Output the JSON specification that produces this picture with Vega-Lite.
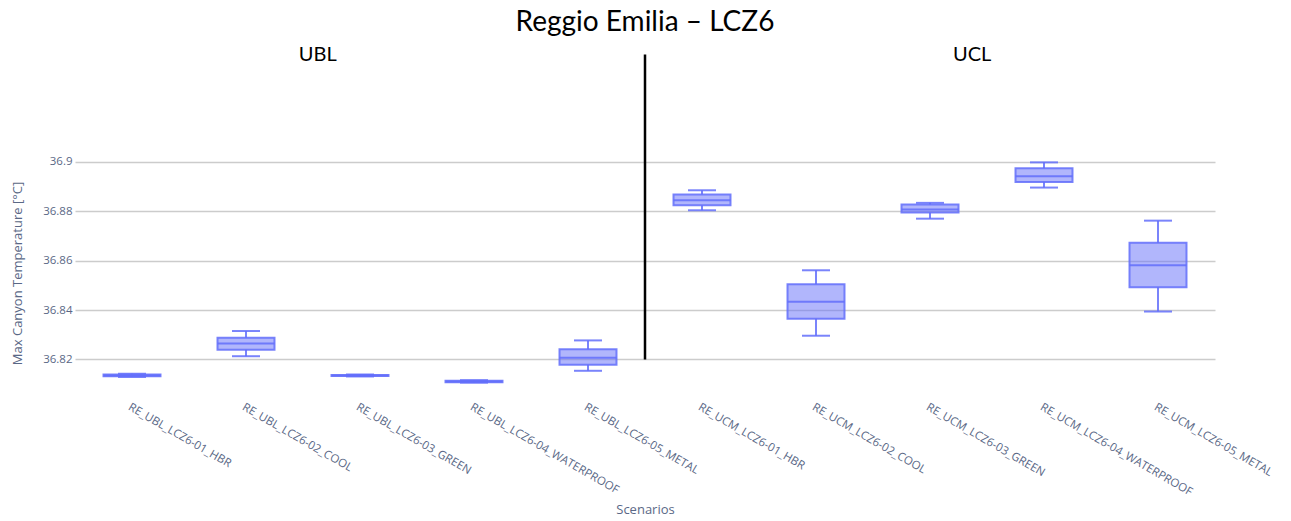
{
  "$schema": "https://vega.github.io/schema/vega-lite/v6.json",
  "width": 1140,
  "height": 242,
  "autosize": {"type": "none"},
  "padding": {"left": 75, "top": 152, "right": 76, "bottom": 127},
  "background": "white",
  "config": {"view": {"stroke": null}},
  "title": {"text": "Reggio Emilia – LCZ6", "font": "Lato", "fontSize": 28, "fontWeight": "normal", "color": "#000000", "anchor": "middle", "offset": 8},
  "data": {"values": [
    {"scenario": "RE_UBL_LCZ6-01_HBR", "min": 36.8129, "q1": 36.8132, "median": 36.8135, "q3": 36.8139, "max": 36.8142},
    {"scenario": "RE_UBL_LCZ6-02_COOL", "min": 36.8213, "q1": 36.8239, "median": 36.8264, "q3": 36.8288, "max": 36.8315},
    {"scenario": "RE_UBL_LCZ6-03_GREEN", "min": 36.8131, "q1": 36.8133, "median": 36.8135, "q3": 36.8137, "max": 36.8139},
    {"scenario": "RE_UBL_LCZ6-04_WATERPROOF", "min": 36.8106, "q1": 36.8108, "median": 36.8111, "q3": 36.8114, "max": 36.8116},
    {"scenario": "RE_UBL_LCZ6-05_METAL", "min": 36.8154, "q1": 36.8178, "median": 36.8207, "q3": 36.8241, "max": 36.8277},
    {"scenario": "RE_UCM_LCZ6-01_HBR", "min": 36.8804, "q1": 36.8824, "median": 36.8845, "q3": 36.8868, "max": 36.8885},
    {"scenario": "RE_UCM_LCZ6-02_COOL", "min": 36.8296, "q1": 36.8365, "median": 36.8434, "q3": 36.8504, "max": 36.8561},
    {"scenario": "RE_UCM_LCZ6-03_GREEN", "min": 36.8770, "q1": 36.8795, "median": 36.8807, "q3": 36.8827, "max": 36.8834},
    {"scenario": "RE_UCM_LCZ6-04_WATERPROOF", "min": 36.8896, "q1": 36.8919, "median": 36.8942, "q3": 36.8974, "max": 36.8998},
    {"scenario": "RE_UCM_LCZ6-05_METAL", "min": 36.8394, "q1": 36.8492, "median": 36.8581, "q3": 36.8672, "max": 36.8762}
  ]},
  "encoding": {
    "x": {
      "field": "scenario", "type": "nominal", "sort": null,
      "scale": {"paddingInner": 0, "paddingOuter": 0},
      "axis": {
        "title": "Scenarios", "labelAngle": 30, "labelAlign": "left", "labelBaseline": "top",
        "labelPadding": 7, "domain": false, "ticks": false, "grid": false,
        "labelFont": "Open Sans", "labelFontSize": 11.5, "labelColor": "#5a6886",
        "titleFont": "Open Sans", "titleFontSize": 13, "titleFontWeight": "normal", "titleColor": "#5a6886",
        "titlePadding": 6, "labelLimit": 0
      }
    }
  },
  "layer": [
    {
      "mark": {"type": "rule", "color": "#636efa", "strokeWidth": 2, "opacity": 0.85},
      "encoding": {
        "y": {"field": "min", "type": "quantitative",
          "scale": {"domain": [36.806, 36.904], "nice": false, "zero": false},
          "axis": {
            "title": "Max Canyon Temperature [°C]", "values": [36.82, 36.84, 36.86, 36.88, 36.9], "format": "~g",
            "grid": true, "gridColor": "#cccccc", "gridWidth": 1.5, "domain": false, "ticks": false,
            "labelPadding": 3, "labelFont": "Open Sans", "labelFontSize": 11.5, "labelColor": "#5a6886",
            "titleFont": "Open Sans", "titleFontSize": 13, "titleFontWeight": "normal", "titleColor": "#5a6886",
            "titlePadding": 18
          }},
        "y2": {"field": "q1"}
      }
    },
    {
      "mark": {"type": "rule", "color": "#636efa", "strokeWidth": 2, "opacity": 0.85},
      "encoding": {
        "y": {"field": "q3", "type": "quantitative"},
        "y2": {"field": "max"}
      }
    },
    {
      "mark": {"type": "bar", "width": {"band": 0.5}, "fill": "#636efa", "fillOpacity": 0.5, "stroke": "#636efa", "strokeWidth": 2, "strokeOpacity": 0.85},
      "encoding": {
        "y": {"field": "q1", "type": "quantitative"},
        "y2": {"field": "q3"}
      }
    },
    {
      "mark": {"type": "tick", "color": "#636efa", "size": 57, "thickness": 2, "opacity": 0.85},
      "encoding": {"y": {"field": "median", "type": "quantitative"}}
    },
    {
      "mark": {"type": "tick", "color": "#636efa", "size": 28, "thickness": 2, "opacity": 0.85},
      "encoding": {"y": {"field": "min", "type": "quantitative"}}
    },
    {
      "mark": {"type": "tick", "color": "#636efa", "size": 28, "thickness": 2, "opacity": 0.85},
      "encoding": {"y": {"field": "max", "type": "quantitative"}}
    },
    {
      "data": {"values": [{"label": "UBL / UCL"}]},
      "mark": {"type": "rule", "color": "#000000", "strokeWidth": 2.5},
      "encoding": {
        "x": {"datum": "RE_UBL_LCZ6-05_METAL", "bandPosition": 1},
        "y": {"datum": 36.82},
        "y2": {"datum": 36.9435}
      }
    },
    {
      "data": {"values": [{"label": "UBL"}]},
      "mark": {"type": "text", "font": "Lato", "fontSize": 20, "color": "#000000", "baseline": "middle", "align": "center"},
      "encoding": {
        "x": {"datum": "RE_UBL_LCZ6-03_GREEN", "bandPosition": 0.13},
        "y": {"datum": 36.9431},
        "text": {"field": "label"}
      }
    },
    {
      "data": {"values": [{"label": "UCL"}]},
      "mark": {"type": "text", "font": "Lato", "fontSize": 20, "color": "#000000", "baseline": "middle", "align": "center"},
      "encoding": {
        "x": {"datum": "RE_UCM_LCZ6-03_GREEN", "bandPosition": 0.87},
        "y": {"datum": 36.9431},
        "text": {"field": "label"}
      }
    }
  ]
}
